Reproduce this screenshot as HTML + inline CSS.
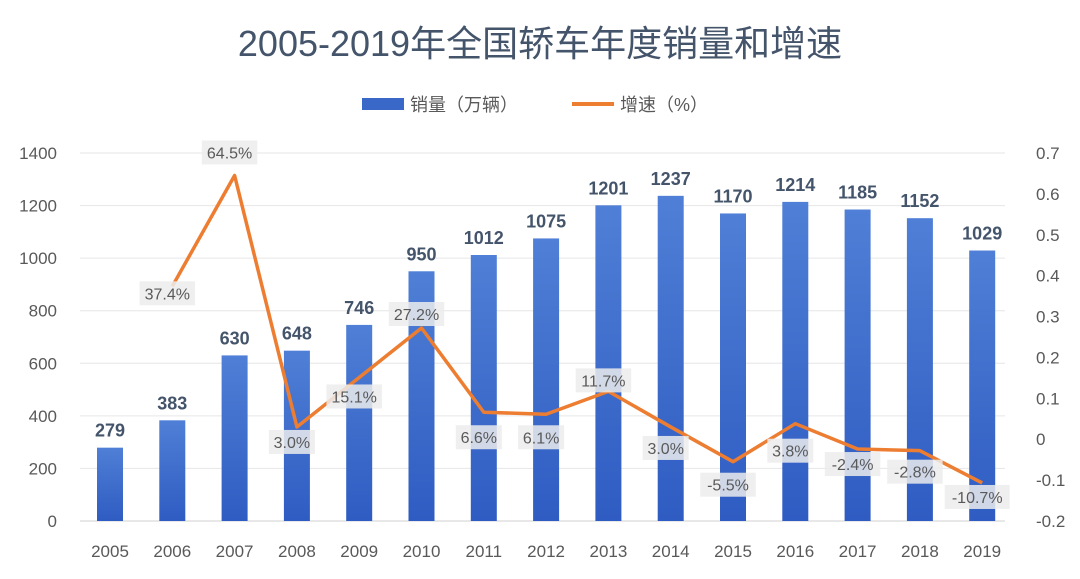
<!DOCTYPE html>
<html><head><meta charset="utf-8">
<style>
body{margin:0;background:#fff;}
svg{display:block;font-family:"Liberation Sans","Noto Sans CJK SC",sans-serif;}
</style></head>
<body>
<svg id="chart" width="1080" height="579" viewBox="0 0 1080 579">
<defs>
<linearGradient id="barGrad" x1="0" y1="0" x2="0" y2="1">
<stop offset="0" stop-color="#4f7fd6"/><stop offset="1" stop-color="#2f5cc2"/>
</linearGradient>
</defs>
<rect width="1080" height="579" fill="#fff"/>
<text x="540" y="56" text-anchor="middle" font-size="36" fill="#44546a">2005-2019年全国轿车年度销量和增速</text>
<g>
<rect x="362" y="98" width="42" height="12" fill="#3a68c8"/>
<text x="410" y="111" font-size="18" fill="#595959">销量（万辆）</text>
<line x1="572" y1="104" x2="614" y2="104" stroke="#ed7d31" stroke-width="4"/>
<text x="620" y="111" font-size="18" fill="#595959">增速（%）</text>
</g>
<g id="grid"></g><g id="bars"></g><g id="line"></g><g id="axes"></g>
</svg>
<script>
const categories=["2005","2006","2007","2008","2009","2010","2011","2012","2013","2014","2015","2016","2017","2018","2019"];
const sales=[279,383,630,648,746,950,1012,1075,1201,1237,1170,1214,1185,1152,1029];
const growth=[null,0.374,0.645,0.030,0.151,0.272,0.066,0.061,0.117,0.030,-0.055,0.038,-0.024,-0.028,-0.107];
const growthLabels=["","37.4%","64.5%","3.0%","15.1%","27.2%","6.6%","6.1%","11.7%","3.0%","-5.5%","3.8%","-2.4%","-2.8%","-10.7%"];
const labelOffset=[0,7,-23,15,19,-14,25,23,-11,21,23,27,15,21,14];
const leftTicks=[0,200,400,600,800,1000,1200,1400];
const rightTicks=[-0.2,-0.1,0,0.1,0.2,0.3,0.4,0.5,0.6,0.7];
const rightTickLabels=["-0.2","-0.1","0","0.1","0.2","0.3","0.4","0.5","0.6","0.7"];

const NS="http://www.w3.org/2000/svg";
const yL=v=>521-v*(368/1400);
const yR=v=>521-(v+0.2)*(368/0.9);
const xC=i=>110+i*62.3;
function mk(tag,attrs,parent,txt){const e=document.createElementNS(NS,tag);for(const k in attrs)e.setAttribute(k,attrs[k]);if(txt!==undefined)e.textContent=txt;document.getElementById(parent).appendChild(e);return e;}

leftTicks.forEach(t=>{
 const g=mk('line',{x1:80,x2:1005,y1:yL(t),y2:yL(t),stroke:t===0?'#d0d0d0':'#e6e6e6','stroke-width':1},'grid');
 
 
 const l=mk('text',{x:57,y:yL(t)+6,'text-anchor':'end','font-size':17,fill:'#595959'},'axes',String(t));
 
 
});
rightTicks.forEach((t,i)=>{
 const l=mk('text',{x:1036,y:yR(t)+6,'font-size':17,fill:'#595959'},'axes',rightTickLabels[i]);
 
 
});
categories.forEach((c,i)=>{
 const l=mk('text',{x:xC(i),y:557,'text-anchor':'middle','font-size':17,fill:'#595959'},'axes',c);
 
 
 const b=mk('rect',{x:xC(i)-13,y:yL(sales[i]),width:26,height:yL(0)-yL(sales[i]),fill:'url(#barGrad)'},'bars');
 
 
 const v=mk('text',{x:xC(i),y:yL(sales[i])-11,'text-anchor':'middle','font-size':18,'font-weight':'bold',fill:'#44546a'},'bars',String(sales[i]));
 
 
});
let d="";
growth.forEach((g,i)=>{if(g===null)return;d+=(d?"L":"M")+xC(i)+","+yR(g);});
const p=mk('path',{d:d,fill:'none',stroke:'#ed7d31','stroke-width':3.5,'stroke-linejoin':'round'},'line');


growth.forEach((g,i)=>{
 if(g===null)return;
 const cx=xC(i)-5, cy=yR(g)+labelOffset[i];
 const w=growthLabels[i].length*9.5+8;
 const r=mk('rect',{x:cx-w/2,y:cy-12,width:w,height:24,fill:'#ececec','fill-opacity':0.85},'line');
 
 
 const t=mk('text',{x:cx,y:cy+6,'text-anchor':'middle','font-size':16,fill:'#595959'},'line',growthLabels[i]);
 
 
});
</script>
</body></html>
